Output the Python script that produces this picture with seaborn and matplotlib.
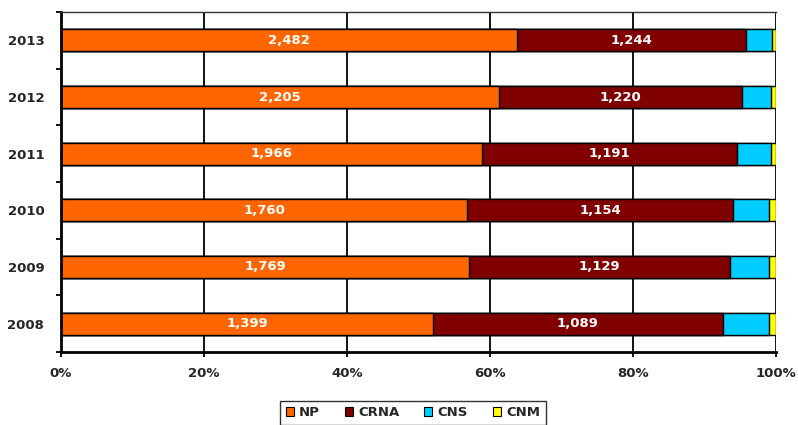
import numpy as np
import pandas as pd
import matplotlib
matplotlib.use("Agg")
import matplotlib.pyplot as plt
from matplotlib.patches import Patch
from matplotlib.ticker import FixedLocator, PercentFormatter
import seaborn as sns

years = ['2013', '2012', '2011', '2010', '2009', '2008']
np_vals = [2482, 2205, 1966, 1760, 1769, 1399]
crna_vals = [1244, 1220, 1191, 1154, 1129, 1089]
cns_vals = [140, 145, 160, 156, 171, 176]
cnm_vals = [21, 23, 21, 27, 27, 23]

series = ['NP', 'CRNA', 'CNS', 'CNM']
colors = ['#FF6600', '#800000', '#00CCFF', '#FFFF00']

df = pd.DataFrame({'year': years, 'NP': np_vals, 'CRNA': crna_vals,
                   'CNS': cns_vals, 'CNM': cnm_vals})
total = df[series].sum(axis=1)
pct = df[series].div(total, axis=0) * 100
cum = pct.cumsum(axis=1)

sns.set_theme(style='white')
plt.rcParams['font.family'] = ['DejaVu Sans']
plt.rcParams['font.weight'] = 'bold'

fig = plt.figure(figsize=(7.98, 4.25), dpi=100)
ax = fig.add_axes([61 / 798, 1 - 352 / 425, 714.5 / 798, 340 / 425])

# grid behind bars
for gx in [20, 40, 60, 80, 100]:
    ax.axvline(gx, color='black', lw=1.3, zorder=0)

# stacked: draw cumulative from the right-most layer down
for s, c in reversed(list(zip(series, colors))):
    d = pd.DataFrame({'year': df['year'], 'val': cum[s]})
    sns.barplot(data=d, x='val', y='year', order=years, orient='h', color=c,
                width=0.39, edgecolor='black', linewidth=1.0, saturation=1,
                ax=ax, zorder=2)

# value labels for NP and CRNA
for i in range(len(years)):
    left = 0
    for s in ['NP', 'CRNA']:
        mid = left + pct[s].iloc[i] / 2
        ax.text(mid, i, f"{df[s].iloc[i]:,}", color='white', fontsize=9.5,
                fontweight='bold', ha='center', va='center', zorder=3)
        left += pct[s].iloc[i]

ax.set_xlim(0, 100)
ax.set_ylim(5.5, -0.5)
ax.set_xlabel('')
ax.set_ylabel('')
ax.xaxis.set_major_locator(FixedLocator([0, 20, 40, 60, 80, 100]))
ax.xaxis.set_major_formatter(PercentFormatter(decimals=0))
ax.tick_params(axis='x', direction='out', length=3.6, width=1.3, color='black',
               labelsize=9.5, pad=7.5, bottom=True)
ax.set_yticks(range(len(years)))
ax.set_yticklabels(years)
ax.tick_params(axis='y', which='major', length=0, labelsize=9.5, pad=12)
ax.yaxis.set_minor_locator(FixedLocator(np.arange(-0.5, 6, 1)))
ax.tick_params(axis='y', which='minor', direction='out', length=3.6, width=1.3,
               color='black', left=True)
for lab in ax.get_xticklabels() + ax.get_yticklabels():
    lab.set_fontweight('bold')

for side in ['left', 'bottom']:
    ax.spines[side].set_color('black')
    ax.spines[side].set_linewidth(2)
ax.spines['top'].set_color('#333333')
ax.spines['top'].set_linewidth(1)
ax.spines['right'].set_visible(False)

handles = [Patch(facecolor=c, edgecolor='black', linewidth=0.8, label=s)
           for s, c in zip(series, colors)]
leg = fig.legend(handles=handles, loc='upper center', ncol=4,
                 bbox_to_anchor=(413 / 798, 1 - 401 / 425), frameon=True,
                 fancybox=False, edgecolor='black', fontsize=9.5,
                 handlelength=0.6, handleheight=0.6, handletextpad=0.4,
                 columnspacing=1.9, borderpad=0.4, borderaxespad=0)
leg.get_frame().set_linewidth(1.0)
for t in leg.get_texts():
    t.set_fontweight('bold')

fig.savefig('out.png', dpi=100)
